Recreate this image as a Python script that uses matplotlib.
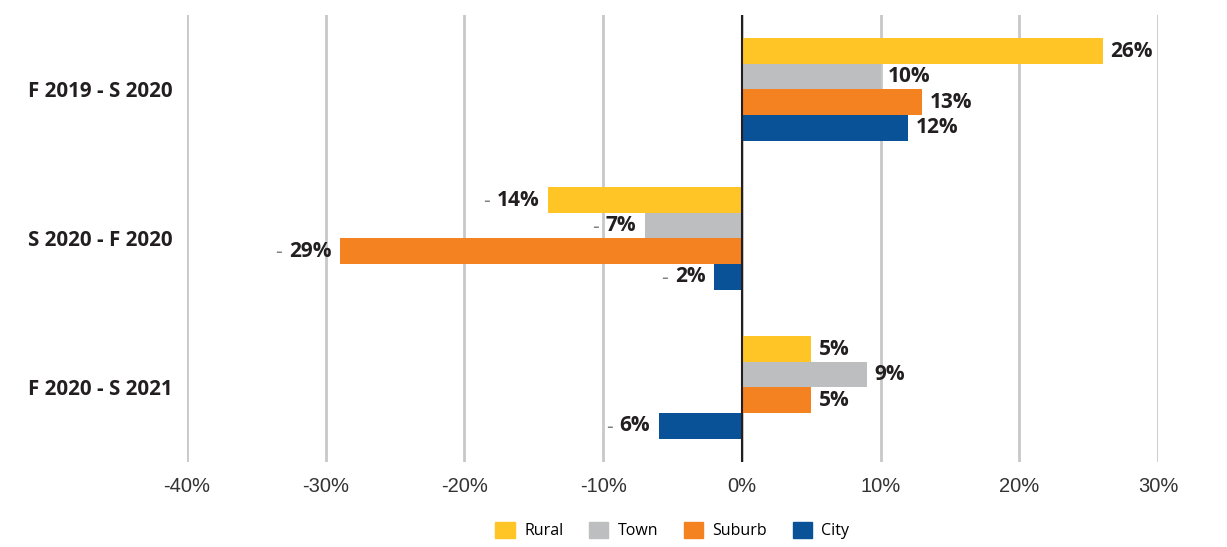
import matplotlib.pyplot as plt
from matplotlib.patches import Patch
import numpy as np

periods = ['F 2019 - S 2020', 'S 2020 - F 2020', 'F 2020 - S 2021']
series = ['Rural', 'Town', 'Suburb', 'City']
rural = [26, -14, 5]
town = [10, -7, 9]
suburb = [13, -29, 5]
city = [12, -2, -6]
ticks = [-40, -30, -20, -10, 0, 10, 20, 30]
tick_labels = ['-40%', '-30%', '-20%', '-10%', '0%', '10%', '20%', '30%']

colors = ['#FFC425', '#BCBEC0', '#F58220', '#0A5297']

fig = plt.figure(figsize=(12.27, 5.47), dpi=100)
ax = fig.add_axes([0.1524, 0.1554, 0.7914, 0.8172])

h = 0.172
y = np.arange(len(periods))
number_texts = []
for i, (vals, c) in enumerate(zip([rural, town, suburb, city], colors)):
    pos = y - 1.5 * h + i * h
    ax.barh(pos, vals, height=h, color=c, zorder=3)
    for p, v in zip(pos, vals):
        if v >= 0:
            ax.annotate(f'{v}%', (v, p), xytext=(5.5, 0), textcoords='offset points',
                        ha='left', va='center', fontsize=15, fontweight='bold',
                        family='Open Sans', color='#231F20')
        else:
            t = ax.annotate(f'{abs(v)}%', (v, p), xytext=(-6, 0), textcoords='offset points',
                            ha='right', va='center', fontsize=15, fontweight='bold',
                            family='Open Sans', color='#231F20')
            number_texts.append((t, v, p))

ax.set_xlim(-40, 30)
ax.set_ylim(2.5, -0.5)
ax.set_xticks(ticks)
ax.set_xticklabels(tick_labels, fontsize=14.5, family='Liberation Sans', color='#333333')
ax.set_yticks(y)
ax.set_yticklabels(periods, fontsize=14.8, fontweight='bold', family='Open Sans', color='#231F20')
ax.tick_params(length=0, axis='x', pad=11)
ax.tick_params(length=0, axis='y', pad=10)
for s in ax.spines.values():
    s.set_visible(False)
ax.grid(axis='x', color='#C8C8C8', linewidth=2, zorder=0)
ax.axvline(0, color='#231F20', linewidth=1.5, zorder=4)

# gray dash in front of negative labels
fig.canvas.draw()
r = fig.canvas.get_renderer()
for t, v, p in number_texts:
    bb = t.get_window_extent(r)
    x_left = ax.transData.inverted().transform((bb.x0, bb.y0))[0]
    ax.annotate('-', (x_left, p), xytext=(-5, -1), textcoords='offset points',
                ha='right', va='center', fontsize=15, family='Open Sans', color='#808080')

handles = [Patch(color=c, label=s) for s, c in zip(series, colors)]
fig.legend(handles=handles, loc='center', bbox_to_anchor=(0.548, 0.03), ncol=4,
           frameon=False, handlelength=1.2, handleheight=1.2, handletextpad=0.6,
           columnspacing=1.6, prop={'family': 'Open Sans', 'size': 11.5})

fig.savefig('out.png', dpi=100)
